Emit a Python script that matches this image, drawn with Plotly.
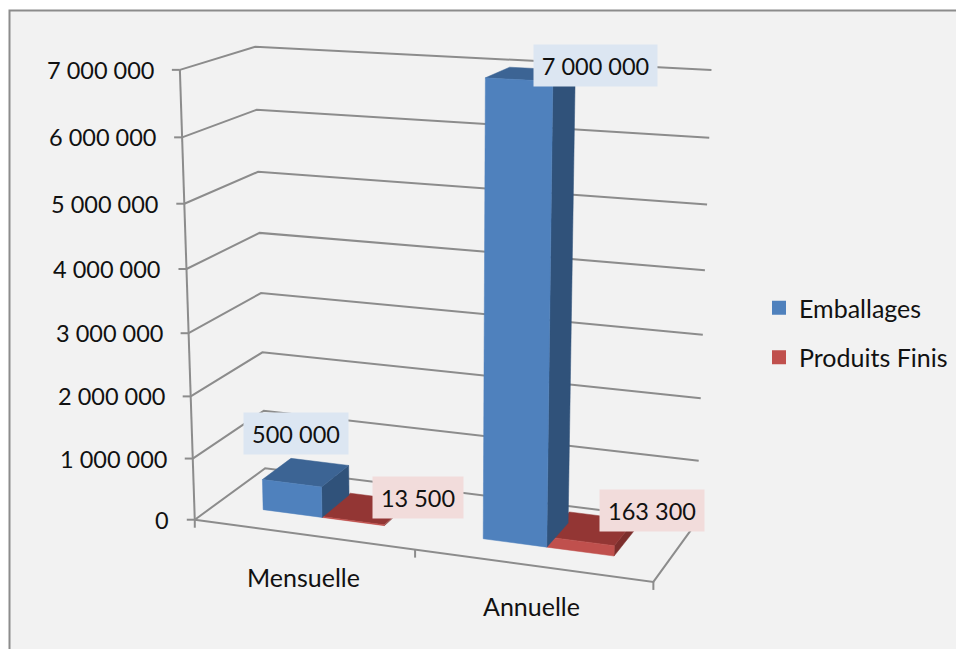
import numpy as np
import plotly.graph_objects as go

# Chart data
categories = ["Mensuelle", "Annuelle"]
emballages = [500000, 7000000]
produits_finis = [13500, 163300]
tick_values = [0, 1000000, 2000000, 3000000, 4000000, 5000000, 6000000, 7000000]
tick_labels = ["0", "1 000 000", "2 000 000", "3 000 000", "4 000 000", "5 000 000", "6 000 000", "7 000 000"]
Z_MAX = 7000000

# Colours per series: front, top, side, label background
BLUE = ("#4f81bd", "#3c6494", "#30527a", "#dce6f2")
RED = ("#c0504d", "#933634", "#7c2e2c", "#f2dcdb")
GRID = "#8c8c8c"
FONT = dict(family="Lato", size=23.5, color="#111111")
NAME_FONT = dict(family="Lato", size=25, color="#111111")

# Perspective camera: solve a 3x4 projection from where the plot box sits on the page
BOX_ANCHORS = [
    ((0, 0, 0), (195, 520)), ((2, 0, 0), (653, 582)),
    ((0, 1, 0), (265, 468)), ((2, 1, 0), (697, 522)),
    ((0, 0, 1), (180, 69.5)), ((0, 1, 1), (255, 47)), ((2, 1, 1), (711.5, 70)),
]
rows, rhs = [], []
for (x, y, z), (u, v) in BOX_ANCHORS:
    rows.append([x, y, z, 1, 0, 0, 0, 0, -u * x, -u * y, -u * z])
    rows.append([0, 0, 0, 0, x, y, z, 1, -v * x, -v * y, -v * z])
    rhs += [u, v]
CAMERA = np.append(np.linalg.lstsq(np.array(rows, float), np.array(rhs, float), rcond=None)[0], 1).reshape(3, 4)


def project(x, y, value):
    """Category position, depth and value to page position."""
    p = CAMERA @ np.array([x, y, value / Z_MAX, 1.0])
    return p[0] / p[2], p[1] / p[2]


fig = go.Figure()


def add_line(points, color=GRID, width=2):
    xs, ys = zip(*points)
    fig.add_trace(go.Scatter(x=xs, y=ys, mode="lines", line=dict(color=color, width=width),
                             showlegend=False, hoverinfo="skip"))


def add_face(points, color):
    xs, ys = zip(*(points + points[:1]))
    fig.add_trace(go.Scatter(x=xs, y=ys, mode="lines", fill="toself", fillcolor=color,
                             line=dict(color=color, width=0.5), showlegend=False, hoverinfo="skip"))


def add_bar(x0, x1, value, colors, y0=0.30, y1=0.72):
    front, top, side, _ = colors
    add_face([project(x1, y0, 0), project(x1, y1, 0), project(x1, y1, value), project(x1, y0, value)], side)
    add_face([project(x0, y0, value), project(x1, y0, value), project(x1, y1, value), project(x0, y1, value)], top)
    add_face([project(x0, y0, 0), project(x1, y0, 0), project(x1, y0, value), project(x0, y0, value)], front)


# Walls: gridlines on the left and back sides, axis lines and tick marks
for tv in tick_values:
    add_line([project(0, 0, tv), project(0, 1, tv), project(2, 1, tv)])
    fx, fy = project(0, 0, tv)
    add_line([(fx - 8, fy), (fx, fy)])
add_line([project(0, 0, 0), project(0, 0, Z_MAX)])
add_line([project(0, 0, 0), project(2, 0, 0), project(2, 1, 0)])
for i in range(len(categories) + 1):
    fx, fy = project(i, 0, 0)
    add_line([(fx, fy), (fx, fy + 8)])

# Bars, far series first so the blue side face sits on top of the red one
for i in range(len(categories)):
    add_bar(i + 0.495, i + 0.78, produits_finis[i], RED, y1=0.74)
    add_bar(i + 0.22, i + 0.495, emballages[i], BLUE)

# Legend entries
for name, colors in (("Emballages", BLUE), ("Produits Finis", RED)):
    fig.add_trace(go.Scatter(x=[None], y=[None], mode="markers", name=name, legendgroup=name,
                             marker=dict(symbol="square", size=14, color=colors[0])))

annotations = []


def add_text(pos, text, xshift=0, yshift=0, xanchor="center", font=FONT, **extra):
    annotations.append(dict(x=pos[0], y=pos[1], text=text, showarrow=False, font=font,
                            xanchor=xanchor, yanchor="middle", xshift=xshift, yshift=yshift, **extra))


for tv, label in zip(tick_values, tick_labels):
    add_text(project(0, 0, tv), label, xshift=-24, xanchor="right")
add_text(project(0.5, 0, 0), categories[0], xshift=1, yshift=-43, font=NAME_FONT)
add_text(project(1.5, 0, 0), categories[1], xshift=0, yshift=-41, font=NAME_FONT)

# Value labels, boxed in the tint of their series
label_offsets = {
    ("e", 0): (-9, 39), ("e", 1): (66, 9),
    ("p", 0): (51, 12), ("p", 1): (60, 19),
}
box_widths = {6: 90, 7: 104, 9: 123}
for i in range(len(categories)):
    for key, values, xc, colors in (("e", emballages, 0.355, BLUE), ("p", produits_finis, 0.645, RED)):
        text = f"{values[i]:,}".replace(",", " ")
        dx, dy = label_offsets[(key, i)]
        add_text(project(i + xc, 0.5, values[i]), text, xshift=dx, yshift=dy,
                 bgcolor=colors[3], width=box_widths[len(text)], height=41, borderpad=0)

fig.update_layout(
    width=956, height=649, margin=dict(l=0, r=0, t=0, b=0, pad=0),
    paper_bgcolor="white", plot_bgcolor="white",
    xaxis=dict(range=[0, 956], visible=False, fixedrange=True),
    yaxis=dict(range=[649, 0], visible=False, fixedrange=True),
    shapes=[dict(type="rect", xref="x", yref="y", x0=9.5, y0=10.5, x1=975, y1=680, layer="below",
                 line=dict(color="#8c8c8c", width=2), fillcolor="#f2f2f2")],
    annotations=annotations,
    legend=dict(x=759 / 956, y=1 - 285 / 649, xanchor="left", yanchor="top", bgcolor="rgba(0,0,0,0)",
                font=NAME_FONT, tracegroupgap=14, itemwidth=30),
)
fig.write_html("out.html")
